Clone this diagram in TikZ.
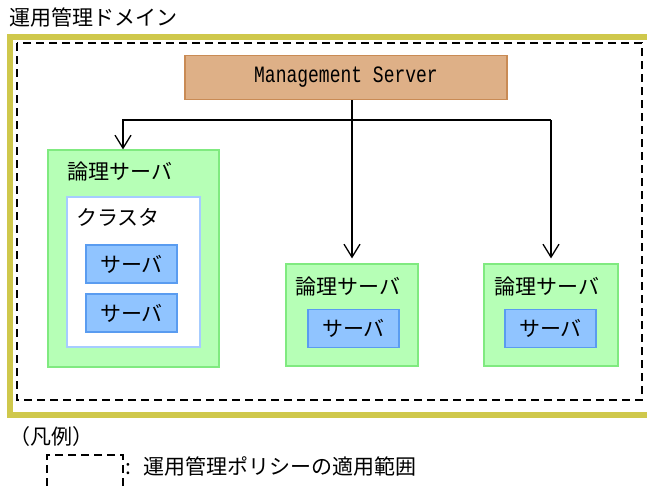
\documentclass[tikz,border=0pt]{standalone}
\usepackage{fontspec}
\newfontfamily\jpfont{Noto Sans CJK JP}
\newfontfamily\msfont{Liberation Mono}
\usepackage{xcolor}
\usetikzlibrary{arrows.meta,positioning}

\definecolor{frameyel}{HTML}{CFC84C}
\definecolor{msfill}{HTML}{DEB087}
\definecolor{msline}{HTML}{C98B55}
\definecolor{lsfill}{HTML}{B6FFB6}
\definecolor{lsline}{HTML}{80EA80}
\definecolor{svfill}{HTML}{90C4FF}
\definecolor{svline}{HTML}{5A9CF0}
\definecolor{clline}{HTML}{A6CCFF}

\begin{document}
\begin{tikzpicture}[
      x=1pt, y=-1pt,
      font=\jpfont\fontsize{21}{25}\selectfont,
      box/.style={draw, line width=1.2pt, inner sep=0pt},
      lserver/.style={box, draw=lsline, fill=lsfill},
      server/.style={box, draw=svline, fill=svfill, minimum width=91pt,
                     minimum height=38pt},
      lbl/.style={anchor=west, inner sep=0pt},
      scope/.style={line width=1.5pt, dash pattern=on 8pt off 5pt},
      flow/.style={-{Straight Barb[length=13pt,width=16pt]}, line width=1.3pt},
    ]
    \clip (0,0) rectangle (647,490);

    % domain and policy frames
    \draw[frameyel, line width=6pt] (10,37) rectangle (670,415);
    \draw[scope] (17,43) rectangle (642,400);
    \node[lbl] (title) at (9,18) {運用管理ドメイン};

    % management server
    \node[box, draw=msline, fill=msfill, minimum width=322pt, minimum height=44pt,
          font=\msfont\fontsize{18}{22}\selectfont] (ms) at (346,77.5)
          {\scalebox{1}[1.3]{Management Server}};

    % logical servers
    \node[lserver, minimum width=171pt, minimum height=217pt] (ls1) at (133.5,258.5) {};
    \node[box, draw=clline, fill=white, minimum width=133pt, minimum height=150pt] (cl) at (133.5,272) {};
    \node[server] (sv1a) at (131.5,264) {サーバ};
    \node[server] (sv1b) at (131.5,313) {サーバ};
    \node[lserver, minimum width=132pt, minimum height=102pt] (ls2) at (352,315) {};
    \node[server] (sv2) at (353.5,328.5) {サーバ};
    \node[lserver, minimum width=134pt, minimum height=102pt] (ls3) at (551,315) {};
    \node[server] (sv3) at (550.5,328.5) {サーバ};

    \node[lbl] (ls1lbl) at (67,172) {論理サーバ};
    \node[lbl] (cllbl) at (76,217) {クラスタ};
    \node[lbl] (ls2lbl) at (295,287) {論理サーバ};
    \node[lbl] (ls3lbl) at (494,287) {論理サーバ};

    % arrows
    \coordinate (bus) at (0,120);
    \draw[flow, shorten >=5pt] (ms.south -| ls2.north) -- (ls2.north);
    \draw[flow, shorten >=5pt] (bus -| ls3.north) -- (ls3.north);
    \draw[flow] (bus -| ls3.north) -- ([xshift=-10.5pt]bus -| ls1.north)
      -- ([xshift=-10.5pt]ls1.north);

    % legend
    \node[lbl] (leg) at (9,437) {（凡例）};
    \node[scope, draw, minimum width=76pt, minimum height=46pt] (legbox) at (85,478) {};
    \node[lbl] (legtext) at (125,466) {:\hspace{12pt}運用管理ポリシーの適用範囲};
  \end{tikzpicture}
\end{document}
